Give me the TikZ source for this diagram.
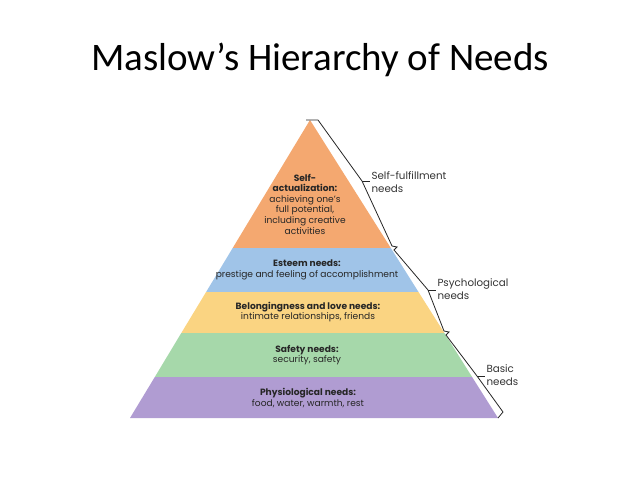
\documentclass[tikz,border=0pt]{standalone}
\usepackage{fontspec}
\setmainfont{Poppins}
\newfontfamily\titlefont{Carlito}
\begin{document}
\begin{tikzpicture}[x=1pt,y=-1pt,
  lab/.style={align=center,font=\fontsize{9.1}{10.6}\selectfont,text=black!85},
  side/.style={align=left,anchor=west,font=\fontsize{10.3}{12.5}\selectfont,text=black!80},
  brk/.style={draw=black!85,line width=0.8pt}]
\useasboundingbox (0,0) rectangle (638,479);
\node[font=\titlefont\fontsize{39}{44}\selectfont] (title) at (320,60) {Maslow’s Hierarchy of Needs};
\fill[fill={rgb,255:red,244;green,168;blue,112}] (310,120) -- (232.7,248) -- (390.8,248) -- cycle;
\fill[fill={rgb,255:red,160;green,196;blue,232}] (232.7,248) -- (206.1,292) -- (418.5,292) -- (390.8,248) -- cycle;
\fill[fill={rgb,255:red,250;green,212;blue,130}] (206.1,292) -- (181.3,333) -- (444.4,333) -- (418.5,292) -- cycle;
\fill[fill={rgb,255:red,166;green,216;blue,170}] (181.3,333) -- (154.8,377) -- (472.1,377) -- (444.4,333) -- cycle;
\fill[fill={rgb,255:red,176;green,156;blue,210}] (154.8,377) -- (130,418) -- (498,418) -- (472.1,377) -- cycle;
\node[lab] (sa) at (305,204) {\textbf{Self-}\\\textbf{actualization:}\\achieving one’s\\full potential,\\including creative\\activities};
\node[lab] (es) at (307,270) {\textbf{Esteem needs:}\\prestige and feeling of accomplishment};
\node[lab] (bl) at (308,312) {\textbf{Belongingness and love needs:}\\intimate relationships, friends};
\node[lab] (sf) at (307,355) {\textbf{Safety needs:}\\security, safety};
\node[lab] (ph) at (308,398) {\textbf{Physiological needs:}\\food, water, warmth, rest};
% brackets
\coordinate (b0) at (306,120); \coordinate (b1) at (318,120);
\coordinate (m1) at (362,181); \coordinate (t1) at (370,181);
\coordinate (e1) at (392,246); \coordinate (e1a) at (397,247); \coordinate (e1b) at (394,250);
\coordinate (m2) at (428,290); \coordinate (t2) at (436,290);
\coordinate (e2) at (444,331); \coordinate (e2a) at (449,332); \coordinate (e2b) at (446,335);
\coordinate (m3) at (477,376); \coordinate (t3) at (485,376);
\coordinate (e3) at (503,412); \coordinate (e3a) at (498,418);
\draw[brk] (b0) -- (b1) -- (m1) -- (e1) -- (e1a) -- (e1b) -- (m2) -- (e2) -- (e2a) -- (e2b) -- (m3) -- (e3) -- (e3a);
\draw[brk] (m1) -- (t1); \draw[brk] (m2) -- (t2); \draw[brk] (m3) -- (t3);
\node[side] (s1) at (368,182) {Self-fulfillment\\needs};
\node[side] (s2) at (434,289) {Psychological\\needs};
\node[side] (s3) at (483,375) {Basic\\needs};
\end{tikzpicture}
\end{document}
